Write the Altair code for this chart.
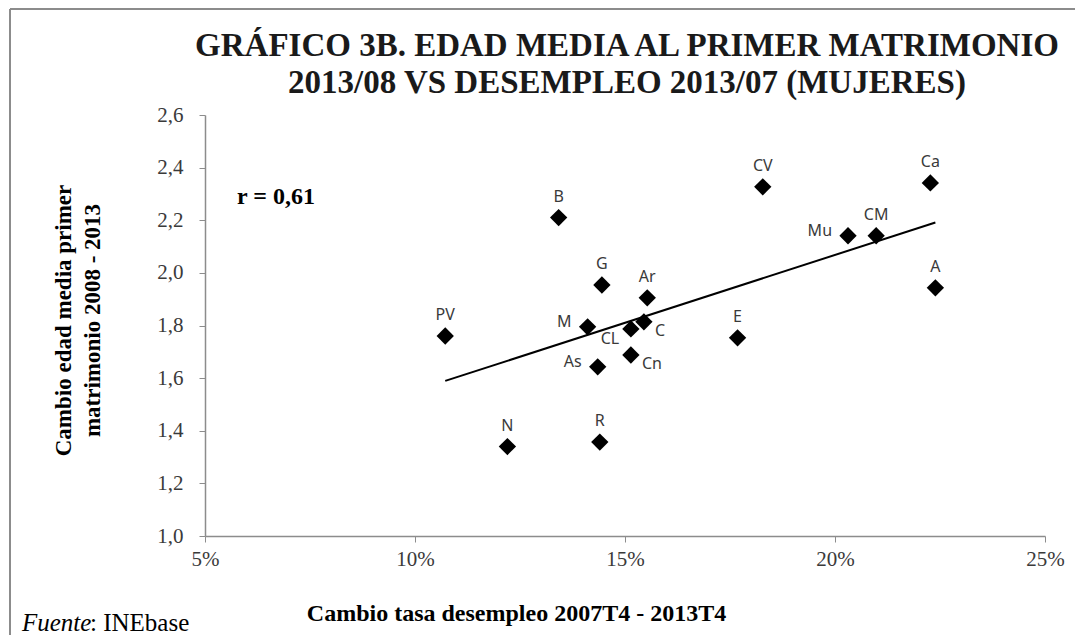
import altair as alt
import pandas as pd

regions = ["PV", "N", "B", "M", "As", "R", "G", "CL", "Cn", "C", "Ar", "E", "CV", "Mu", "CM", "Ca", "A"]
unemployment_change = [10.72, 12.20, 13.42, 14.11, 14.35, 14.40, 14.45, 15.14, 15.14, 15.45, 15.53, 17.68, 18.28, 20.31, 20.98, 22.27, 22.39]
age_change = [1.76, 1.34, 2.21, 1.795, 1.643, 1.357, 1.954, 1.787, 1.688, 1.814, 1.905, 1.753, 2.327, 2.141, 2.141, 2.342, 1.943]
label_side = ["above", "above", "above", "left", "left", "above", "above", "belowleft", "right", "right", "above", "above", "above", "left", "above", "above", "above"]

x_ticks = [5, 10, 15, 20, 25]
y_ticks = [1.0, 1.2, 1.4, 1.6, 1.8, 2.0, 2.2, 2.4, 2.6]

title_line1 = "GRÁFICO 3B. EDAD MEDIA AL PRIMER MATRIMONIO"
title_line2 = "2013/08 VS DESEMPLEO 2013/07 (MUJERES)"
x_title = "Cambio tasa desempleo 2007T4 - 2013T4"
y_title = ["Cambio edad media primer", "matrimonio 2008 - 2013"]
r_text = "r = 0,61"
source_italic = "Fuente"
source_rest = ": INEbase"

df = pd.DataFrame({"region": regions, "unemp": unemployment_change, "age": age_change, "side": label_side})
one = pd.DataFrame({"k": [0]})

SERIF = "Liberation Serif"
SANS = "Noto Sans"
GRAY = "#8c8c8c"

x_enc = alt.X(
    "unemp:Q",
    scale=alt.Scale(domain=[5, 25], nice=False, zero=False),
    axis=alt.Axis(
        values=x_ticks,
        labelExpr="datum.value + '%'",
        labelFlush=False,
        labelFont=SERIF,
        labelFontSize=21,
        labelColor="#3a3a3a",
        title=x_title,
        titleX=311,
        titleY=77,
        titleBaseline="middle",
        titleFontSize=24,
        labelPadding=6,
    ),
)
y_enc = alt.Y(
    "age:Q",
    scale=alt.Scale(domain=[1.0, 2.6], nice=False, zero=False),
    axis=alt.Axis(
        values=y_ticks,
        labelExpr="replace(format(datum.value, '.1f'), '.', ',')",
        labelFont=SERIF,
        labelFontSize=21,
        labelColor="#3a3a3a",
        labelFlush=False,
        title=y_title,
        titleX=-142,
        titleY=205,
        titleAngle=270,
        titleBaseline="middle",
        titleAlign="center",
        titleLineHeight=29,
        titleFontSize=23,
        labelPadding=16,
    ),
)

base = alt.Chart(df)

points = base.mark_point(shape="diamond", filled=True, size=300, color="black", opacity=1).encode(x=x_enc, y=y_enc)

trend = base.transform_regression("unemp", "age").mark_line(color="black", strokeWidth=2).encode(
    x="unemp:Q", y="age:Q"
)

lab_style = dict(font=SANS, fontSize=16, color="#3a3a3a", baseline="middle")
above = base.transform_filter(alt.datum.side == "above").mark_text(dy=-21, align="center", **lab_style).encode(
    x="unemp:Q", y="age:Q", text="region:N")
left = base.transform_filter(alt.datum.side == "left").mark_text(dx=-16, dy=-5, align="right", **lab_style).encode(
    x="unemp:Q", y="age:Q", text="region:N")
right = base.transform_filter(alt.datum.side == "right").mark_text(dx=11, dy=9, align="left", **lab_style).encode(
    x="unemp:Q", y="age:Q", text="region:N")
belowleft = base.transform_filter(alt.datum.side == "belowleft").mark_text(dx=-21, dy=10, align="center", **lab_style).encode(
    x="unemp:Q", y="age:Q", text="region:N")

title_style = dict(font=SERIF, fontSize=33, fontWeight="bold", align="center", baseline="middle", color="#1a1a1a")
t1 = alt.Chart(one).mark_text(**title_style).encode(x=alt.value(422), y=alt.value(-69), text=alt.value(title_line1))
t2 = alt.Chart(one).mark_text(**title_style).encode(x=alt.value(422), y=alt.value(-32), text=alt.value(title_line2))

rtext = alt.Chart(one).mark_text(font=SERIF, fontSize=24, fontWeight="bold", align="left", baseline="middle", color="black").encode(
    x=alt.value(32), y=alt.value(82), text=alt.value(r_text))

src1 = alt.Chart(one).mark_text(font=SERIF, fontSize=25, fontStyle="italic", align="left", baseline="alphabetic", color="black").encode(
    x=alt.value(-183), y=alt.value(516), text=alt.value(source_italic))
src2 = alt.Chart(one).mark_text(font=SERIF, fontSize=25, align="left", baseline="alphabetic", color="black").encode(
    x=alt.value(-115), y=alt.value(516), text=alt.value(source_rest))

frame_left = alt.Chart(one).mark_rule(color=GRAY, strokeWidth=2).encode(
    x=alt.value(-195), y=alt.value(-106), y2=alt.value(530))
frame_top = alt.Chart(one).mark_rule(color=GRAY, strokeWidth=2).encode(
    x=alt.value(-195), x2=alt.value(880), y=alt.value(-106))

chart = alt.layer(
    frame_left, frame_top, trend, points, above, left, right, belowleft, t1, t2, rtext, src1, src2
).properties(
    width=840,
    height=421,
    padding={"left": 197, "top": 107, "right": 30, "bottom": 99},
    autosize="none",
).configure_view(stroke=None).configure_axis(
    grid=False,
    domainColor=GRAY,
    domainWidth=1.5,
    tickColor=GRAY,
    tickSize=6,
    labelFont=SERIF,
    labelFontSize=21,
    labelColor="#3a3a3a",
    titleFont=SERIF,
    titleFontWeight="bold",
    titleColor="black",
)

chart.save("out.html", embed_options={"renderer": "svg", "actions": False})
